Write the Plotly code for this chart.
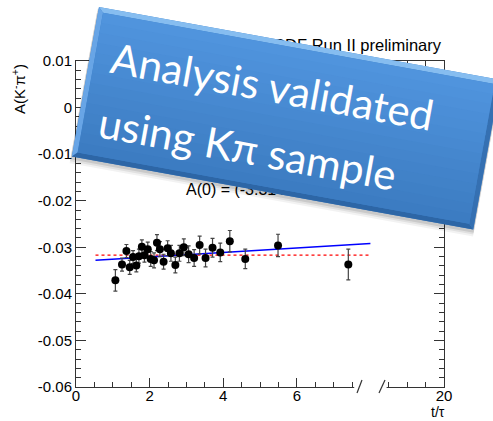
import math
import plotly.graph_objects as go

# Lifetime bins (in units of the D0 lifetime) and the measured raw asymmetry
t_tau = [1.07, 1.25, 1.37, 1.46, 1.55, 1.64, 1.71, 1.79, 1.86, 1.95,
         2.03, 2.12, 2.20, 2.28, 2.38, 2.49, 2.58, 2.70, 2.81, 2.93,
         3.06, 3.21, 3.36, 3.52, 3.71, 3.92, 4.18, 4.60, 5.49, 7.40]
asym = [-0.0371, -0.0337, -0.0308, -0.0343, -0.0321, -0.0339, -0.0319, -0.0299, -0.0317, -0.0304,
        -0.0325, -0.0328, -0.0290, -0.0304, -0.0331, -0.0302, -0.0313, -0.0338, -0.0313, -0.0300,
        -0.0315, -0.0323, -0.0295, -0.0323, -0.0301, -0.0311, -0.0287, -0.0325, -0.0296, -0.0337]
asym_err = [0.0023, 0.0014, 0.0014, 0.0015, 0.0014, 0.0014, 0.0015, 0.0015, 0.0015, 0.0015,
            0.0016, 0.0016, 0.0017, 0.0016, 0.0016, 0.0016, 0.0017, 0.0017, 0.0017, 0.0018,
            0.0018, 0.0018, 0.0019, 0.0019, 0.0020, 0.0020, 0.0023, 0.0021, 0.0024, 0.0033]

# Fit results: linear in t/tau and constant
fit_t = [0.53, 8.0]
fit_linear = [-0.0328, -0.0292]
fit_const = [-0.0317, -0.0317]

# Axis ticks (the last x tick sits beyond the axis break)
x_tickvals = [0, 2, 4, 6, 10]
x_ticktext = ["0", "2", "4", "6", "20"]
x_minorvals = [0.5, 1, 1.5, 2.5, 3, 3.5, 4.5, 5, 5.5, 6.5, 7, 7.5, 8.5, 9, 9.5]
y_tickvals = [-0.06, -0.05, -0.04, -0.03, -0.02, -0.01, 0, 0.01]
y_ticktext = ["-0.06", "-0.05", "-0.04", "-0.03", "-0.02", "-0.01", "0", "0.01"]

W_FIG, H_FIG = 493, 421
ML, MR, MT, MB = 76, 49, 61, 34
PW, PH = W_FIG - ML - MR, H_FIG - MT - MB
AXIS_FONT = "Liberation Sans, Arial, sans-serif"


def px(x):
    return (x - ML) / PW


def py(y):
    return (H_FIG - MB - y) / PH


fig = go.Figure()

fig.add_trace(go.Scatter(x=fit_t, y=fit_const, mode="lines",
                         line=dict(color="red", width=1.2, dash="dot"),
                         hoverinfo="skip", showlegend=False))
fig.add_trace(go.Scatter(x=fit_t, y=fit_linear, mode="lines",
                         line=dict(color="blue", width=1.5),
                         hoverinfo="skip", showlegend=False))
fig.add_trace(go.Scatter(
    x=t_tau, y=asym, mode="markers",
    marker=dict(color="black", size=8),
    error_y=dict(type="data", array=asym_err, visible=True,
                 color="#444", thickness=1.2, width=2),
    showlegend=False))

shapes = []

# break in the time axis
shapes.append(dict(type="rect", xref="x", yref="paper", x0=7.56, x1=8.44,
                   y0=-0.012, y1=0.006, fillcolor="white", line=dict(width=0),
                   layer="above"))
for xa, xb in [(357, 362), (379, 385)]:
    shapes.append(dict(type="line", xref="paper", yref="paper",
                       x0=px(xa), y0=py(393), x1=px(xb), y1=py(380),
                       line=dict(color="#333", width=1.2), layer="above"))

# text that sits underneath the callout box
shapes.append(dict(type="rect", xref="paper", yref="paper",
                   x0=px(243), x1=px(444), y0=py(52), y1=py(34),
                   fillcolor="rgba(0,0,0,0)", line=dict(width=0), layer="above",
                   label=dict(text="CDF Run II preliminary", textposition="middle right",
                              padding=0, font=dict(family=AXIS_FONT, size=16.5, color="black"))))
shapes.append(dict(type="rect", xref="paper", yref="paper",
                   x0=px(183), x1=px(420), y0=py(196), y1=py(178),
                   fillcolor="rgba(0,0,0,0)", line=dict(width=0), layer="above",
                   label=dict(text="A(0) = (-3.31 ± 0.11)%", textposition="middle left",
                              padding=0, font=dict(family=AXIS_FONT, size=16, color="black"))))

# rotated callout box
ANG = math.radians(10.3)
UX, UY = math.cos(ANG), math.sin(ANG)
VX, VY = -math.sin(ANG), math.cos(ANG)
BOX_O = (99.0, 7.0)
BOX_W, BOX_H = 408.0, 152.0
BEV = 5.0


def loc(s, t):
    return (BOX_O[0] + s * UX + t * VX, BOX_O[1] + s * UY + t * VY)


def poly(pts, color):
    d = "M " + " L ".join(f"{px(x):.5f},{py(y):.5f}" for x, y in pts) + " Z"
    return dict(type="path", xref="paper", yref="paper", path=d,
                fillcolor=color, line=dict(width=0), layer="above")


# soft drop shadow
for k, a in [(7, 0.05), (5, 0.07), (3, 0.10)]:
    pts = [loc(-1, k - 1), loc(BOX_W + 1, k - 1), loc(BOX_W + 1, BOX_H + k), loc(-1, BOX_H + k)]
    shapes.append(poly(pts, f"rgba(0,0,0,{a})"))

# bevelled edges
shapes.append(poly([loc(0, 0), loc(BOX_W, 0), loc(BOX_W, BOX_H), loc(0, BOX_H)], "#3f82ca"))
shapes.append(poly([loc(0, 0), loc(BOX_W, 0), loc(BOX_W - BEV, BEV), loc(BEV, BEV)], "#86bdf0"))
shapes.append(poly([loc(0, 0), loc(BEV, BEV), loc(BEV, BOX_H - BEV), loc(0, BOX_H)], "#68a5e6"))
shapes.append(poly([loc(0, BOX_H), loc(BEV, BOX_H - BEV), loc(BOX_W - BEV, BOX_H - BEV), loc(BOX_W, BOX_H)], "#2d66a6"))
shapes.append(poly([loc(BOX_W, 0), loc(BOX_W, BOX_H), loc(BOX_W - BEV, BOX_H - BEV), loc(BOX_W - BEV, BEV)], "#3570b2"))

# face with a vertical gradient
top_rgb, bot_rgb = (80, 148, 221), (60, 124, 194)
n_bands = 14
face_h = BOX_H - 2 * BEV
for i in range(n_bands):
    f = i / (n_bands - 1)
    c = tuple(round(top_rgb[j] + (bot_rgb[j] - top_rgb[j]) * f) for j in range(3))
    t0 = BEV + face_h * i / n_bands
    t1 = min(BEV + face_h * (i + 1) / n_bands + 0.8, BOX_H - BEV)
    shapes.append(poly([loc(BEV, t0), loc(BOX_W - BEV, t0), loc(BOX_W - BEV, t1), loc(BEV, t1)],
                       f"rgb({c[0]},{c[1]},{c[2]})"))

annotations = []
for text, s, t in [("Analysis validated", 184.5, 47.0), ("using Kπ sample", 171.0, 112.0)]:
    cx, cy = loc(s, t)
    annotations.append(dict(text=text, x=px(cx), y=py(cy), xref="paper", yref="paper",
                            xanchor="center", yanchor="middle", showarrow=False,
                            textangle=10.3,
                            font=dict(family="Lato, Open Sans, sans-serif", size=42, color="white")))

annotations.append(dict(text="A(K<sup>-</sup>π<sup>+</sup>)", x=px(18), y=py(62),
                        xref="paper", yref="paper", xanchor="center", yanchor="top",
                        textangle=-90, showarrow=False,
                        font=dict(family=AXIS_FONT, size=15, color="black")))
annotations.append(dict(text="t/τ", x=px(446), y=py(421), xref="paper", yref="paper",
                        xanchor="right", yanchor="bottom", showarrow=False, borderpad=0,
                        font=dict(family=AXIS_FONT, size=14, color="black")))

fig.update_layout(
    width=W_FIG, height=H_FIG,
    margin=dict(l=ML, r=MR, t=MT, b=MB, pad=0),
    paper_bgcolor="white", plot_bgcolor="white",
    showlegend=False,
    shapes=shapes,
    annotations=annotations,
    xaxis=dict(range=[0, 10], showgrid=False, zeroline=False,
               showline=True, linecolor="#333", linewidth=1, mirror="ticks",
               ticks="inside", ticklen=9, tickwidth=1, tickcolor="#333",
               tickmode="array", tickvals=x_tickvals, ticktext=x_ticktext,
               ticklabelstandoff=-5,
               tickfont=dict(family=AXIS_FONT, size=15, color="black"),
               minor=dict(tickmode="array", tickvals=x_minorvals, ticks="inside",
                          ticklen=5, tickcolor="#333", showgrid=False)),
    yaxis=dict(range=[-0.06, 0.01], showgrid=False, zeroline=False,
               showline=True, linecolor="#333", linewidth=1, mirror="ticks",
               ticks="inside", ticklen=10, tickwidth=1, tickcolor="#333",
               tickmode="array", tickvals=y_tickvals, ticktext=y_ticktext,
               tickfont=dict(family=AXIS_FONT, size=15, color="black"),
               minor=dict(dtick=0.002, tick0=0, ticks="inside", ticklen=5,
                          tickcolor="#333", showgrid=False)),
)

fig.write_html("out.html")
